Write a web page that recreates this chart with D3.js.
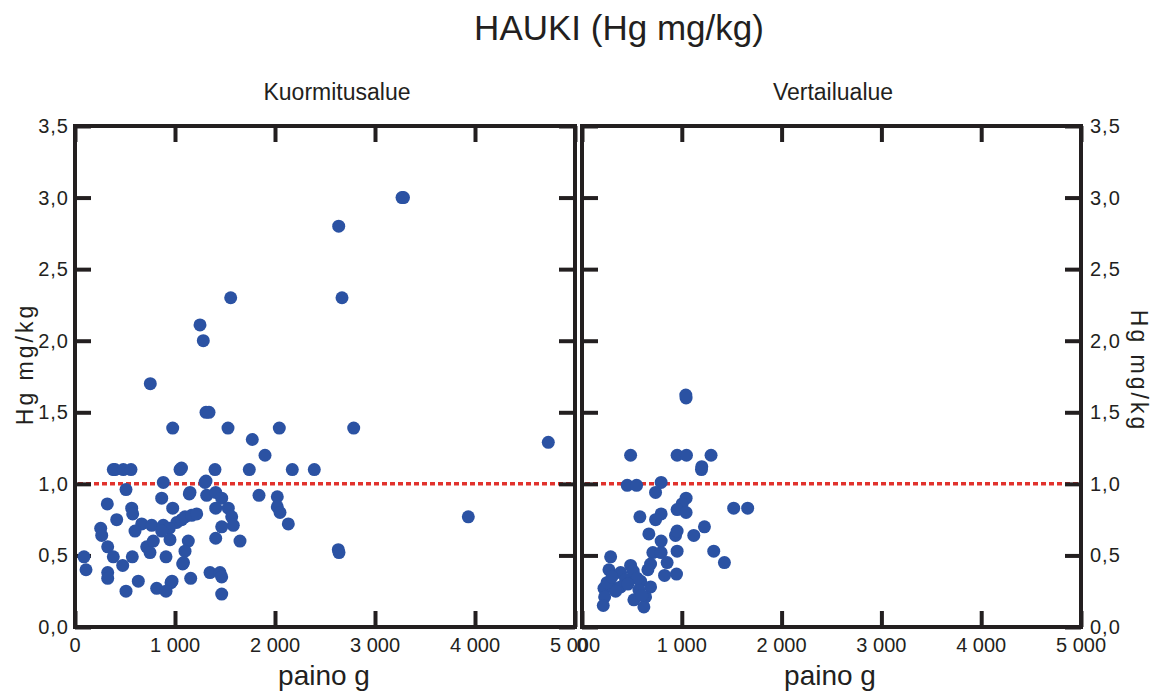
<!DOCTYPE html>
<html>
<head>
<meta charset="utf-8">
<script src="https://cdn.jsdelivr.net/npm/d3@7"></script>
<style>
  body { margin: 0; background: #fff; }
  svg text { font-family: "Liberation Sans", Arial, sans-serif; fill: #231f20; }
</style>
</head>
<body>
<svg id="chart" width="1156" height="691"></svg>
<script>
// Kuormitusalue: weight (g) and Hg (mg/kg)
const kuormX = [3270, 3285, 2637, 1557, 2670, 1250, 1283, 753, 1310, 1340,
  977, 1530, 2043, 2787, 4733, 1773, 1900, 383, 400, 483, 560, 1050, 1065, 1400, 1743, 2173, 2393,
  883, 1300, 1310, 510, 1143, 1150, 867, 1317, 1407, 1467, 1840, 2023,
  323, 977, 1407, 1533, 2023, 2050, 567, 577, 2133, 3933, 417,
  667, 767, 883, 1017, 1067, 1100, 1167, 1217, 1567, 1583, 1467,
  257, 267, 600, 943, 950, 867, 327, 717, 783, 750, 1133, 1407, 1650, 1100,
  90, 383, 573, 910, 2633, 2640, 110, 477, 1077, 1085, 327, 327, 1350, 1450, 1467,
  1157, 633, 960, 970, 817, 910, 510, 1467];
const kuormY = [3.00, 3.00, 2.80, 2.30, 2.30, 2.11, 2.00, 1.70, 1.50, 1.50,
  1.39, 1.39, 1.39, 1.39, 1.29, 1.31, 1.20, 1.10, 1.10, 1.10, 1.10, 1.10, 1.11, 1.10, 1.10, 1.10, 1.10,
  1.01, 1.01, 1.02, 0.96, 0.93, 0.94, 0.90, 0.92, 0.94, 0.90, 0.92, 0.91,
  0.86, 0.83, 0.83, 0.83, 0.84, 0.80, 0.83, 0.79, 0.72, 0.77, 0.75,
  0.72, 0.71, 0.71, 0.73, 0.75, 0.77, 0.78, 0.79, 0.77, 0.71, 0.70,
  0.69, 0.64, 0.67, 0.69, 0.61, 0.67, 0.56, 0.56, 0.60, 0.52, 0.60, 0.62, 0.60, 0.53,
  0.49, 0.49, 0.49, 0.49, 0.54, 0.52, 0.40, 0.43, 0.44, 0.45, 0.38, 0.34, 0.38, 0.38, 0.35,
  0.34, 0.32, 0.31, 0.32, 0.27, 0.25, 0.25, 0.23];

// Vertailualue: weight (g) and Hg (mg/kg)
const vertX = [1043, 1040, 487, 953, 1047, 1293, 1197, 1200, 453, 547, 793, 737,
  1043, 1003, 953, 1043, 1520, 1660, 580, 793, 737, 1227, 1120, 937, 953, 670, 793,
  953, 1320, 710, 793, 1427, 287, 687, 853, 947, 827,
  270, 387, 487, 437, 220, 320, 387, 227, 213, 337,
  587, 687, 570, 637, 520, 620, 513, 553, 250, 300, 460, 600, 660];
const vertY = [1.60, 1.62, 1.20, 1.20, 1.20, 1.20, 1.10, 1.12, 0.99, 0.99, 1.01, 0.94,
  0.90, 0.86, 0.82, 0.80, 0.83, 0.83, 0.77, 0.79, 0.75, 0.70, 0.64, 0.64, 0.67, 0.65, 0.60,
  0.53, 0.53, 0.52, 0.52, 0.45, 0.49, 0.44, 0.45, 0.37, 0.36,
  0.40, 0.38, 0.43, 0.33, 0.27, 0.27, 0.28, 0.21, 0.15, 0.25,
  0.32, 0.28, 0.26, 0.21, 0.19, 0.14, 0.39, 0.34, 0.31, 0.35, 0.30, 0.22, 0.40];

const xTicks = [0, 1000, 2000, 3000, 4000, 5000];
const yTicks = [0, 0.5, 1.0, 1.5, 2.0, 2.5, 3.0, 3.5];
const limit = 1.0;

const panels = [
  { title: "Kuormitusalue", xs: kuormX, ys: kuormY, left: 75, right: 575, side: "left" },
  { title: "Vertailualue", xs: vertX, ys: vertY, left: 582, right: 1081, side: "right" }
];

const plotTop = 126, plotBottom = 627;
const ink = "#231f20";
const blue = "#2b52a3";
const red = "#e1322d";

const fi = d3.formatLocale({ decimal: ",", thousands: " ", grouping: [3], currency: ["", ""] });
const fmtX = fi.format(",");
const fmtY = fi.format(".1f");

const svg = d3.select("#chart");

svg.append("text")
  .attr("x", 619).attr("y", 40)
  .attr("text-anchor", "middle")
  .style("font-size", "35px")
  .text("HAUKI (Hg mg/kg)");

const y = d3.scaleLinear().domain([0, 3.5]).range([plotBottom, plotTop]);

panels.forEach(p => {
  const x = d3.scaleLinear().domain([0, 5000]).range([p.left, p.right]);
  const g = svg.append("g");
  const isLeft = p.side === "left";

  // limit line
  g.append("line")
    .attr("x1", x(0) + 3).attr("x2", x(5000))
    .attr("y1", y(limit)).attr("y2", y(limit))
    .attr("stroke", red).attr("stroke-width", 3.5)
    .attr("stroke-dasharray", "5,3");

  // ticks (inward, all four sides)
  const tk = 16;
  const axes = [
    [d3.axisBottom(x).tickValues(xTicks).tickSize(-tk), `translate(0,${plotBottom})`],
    [d3.axisTop(x).tickValues(xTicks).tickSize(-tk), `translate(0,${plotTop})`],
    [d3.axisLeft(y).tickValues(yTicks).tickSize(-tk), `translate(${p.left},0)`],
    [d3.axisRight(y).tickValues(yTicks).tickSize(-tk), `translate(${p.right},0)`]
  ];
  axes.forEach(([ax, tr]) => {
    const a = g.append("g").attr("transform", tr).call(ax.tickFormat(""));
    a.select(".domain").remove();
    a.selectAll(".tick line").attr("stroke", ink).attr("stroke-width", 4);
  });

  // points
  g.append("g").selectAll("circle")
    .data(d3.range(p.xs.length))
    .join("circle")
    .attr("cx", i => x(p.xs[i]))
    .attr("cy", i => y(p.ys[i]))
    .attr("r", 6.5)
    .attr("fill", blue);

  // frame
  g.append("rect")
    .attr("x", p.left).attr("y", plotTop)
    .attr("width", p.right - p.left).attr("height", plotBottom - plotTop)
    .attr("fill", "none").attr("stroke", ink).attr("stroke-width", 4);

  // x labels
  g.append("g").selectAll("text")
    .data(xTicks).join("text")
    .attr("x", d => x(d)).attr("y", 652)
    .attr("text-anchor", "middle")
    .style("font-size", "20px")
    .text(d => fmtX(d));

  g.append("text")
    .attr("x", isLeft ? 324 : 830).attr("y", 685)
    .attr("text-anchor", "middle")
    .style("font-size", "28px")
    .text("paino g");

  g.append("text")
    .attr("x", isLeft ? 337 : 833).attr("y", 100)
    .attr("text-anchor", "middle")
    .style("font-size", "23px")
    .text(p.title);

  // y labels
  const lx = isLeft ? p.left - 6 : p.right + 9;
  g.append("g").selectAll("text")
    .data(yTicks).join("text")
    .attr("x", lx).attr("y", d => y(d))
    .attr("dy", "0.35em")
    .attr("text-anchor", isLeft ? "end" : "start")
    .style("font-size", "20px")
    .style("letter-spacing", "1px")
    .text(d => fmtY(d));

  g.append("text")
    .attr("transform", `translate(${isLeft ? 25 : 1139},${isLeft ? 364 : 371}) rotate(${isLeft ? -90 : 90})`)
    .attr("text-anchor", "middle")
    .attr("dy", "0.35em")
    .style("font-size", "23px")
    .style("letter-spacing", "3px")
    .text("Hg mg/kg");
});
</script>
</body>
</html>
